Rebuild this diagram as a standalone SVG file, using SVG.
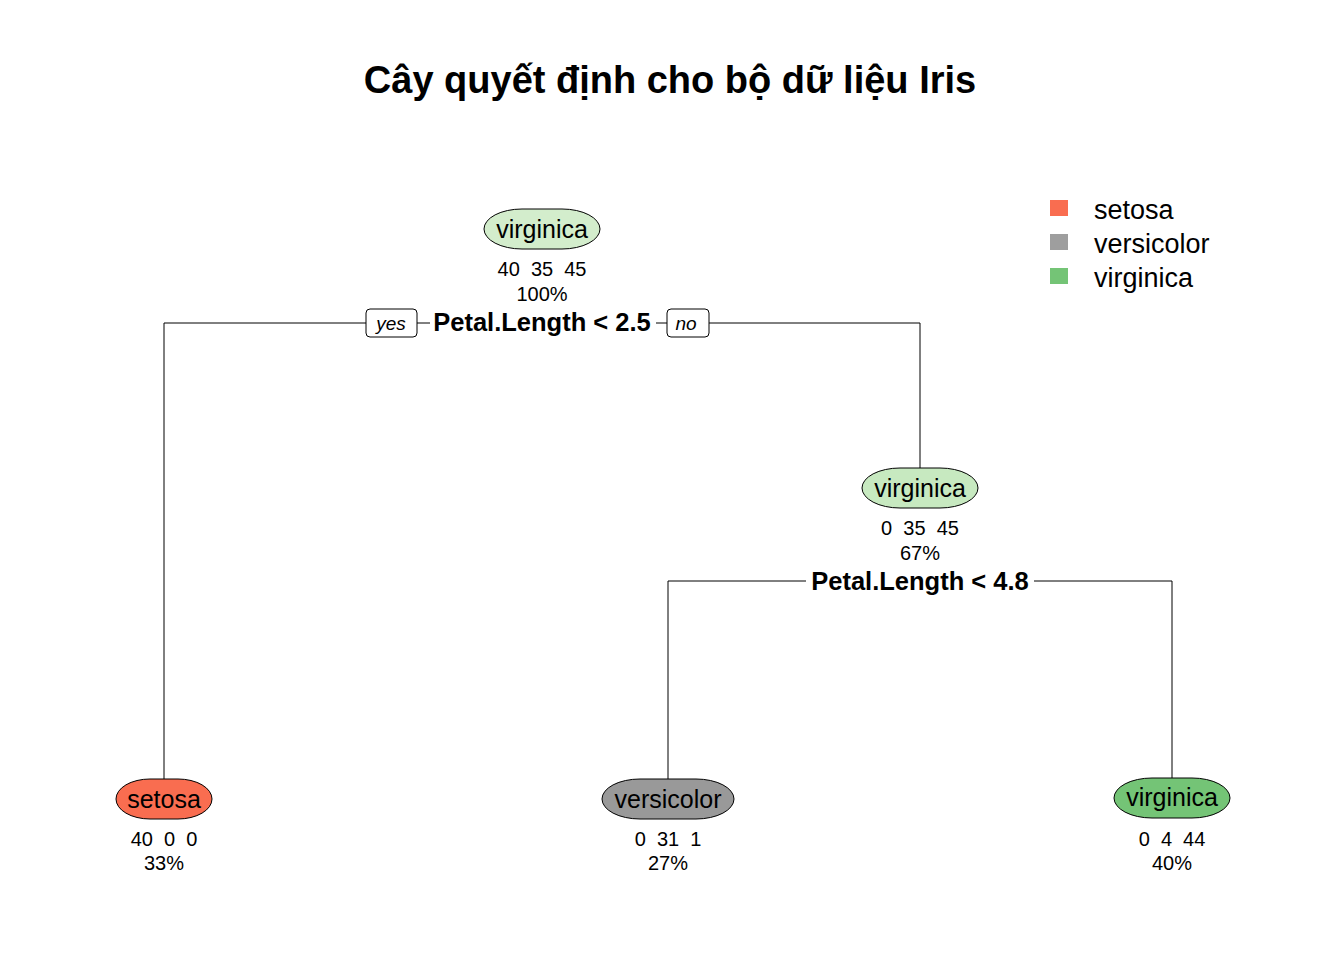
<svg xmlns="http://www.w3.org/2000/svg" width="1344" height="960" viewBox="0 0 1344 960">
<style>
text{font-family:"Liberation Sans",Arial,sans-serif;fill:#000;white-space:pre}
.title{font-size:38px;font-weight:bold;text-anchor:middle}
.lbl{font-size:25px;text-anchor:middle}
.st{font-size:20px;text-anchor:middle}
.split{font-size:25.5px;font-weight:bold;text-anchor:middle}
.yn{font-size:19px;font-style:italic;text-anchor:middle}
.leg{font-size:27px}
.node{stroke:#000;stroke-width:1}
.edge{fill:none;stroke:#000;stroke-width:1}
</style>
<rect width="1344" height="960" fill="#fff"/>
<text class="title" x="670" y="93">Cây quyết định cho bộ dữ liệu Iris</text>
<g id="connectors">
<path class="edge" d="M164,779 V323 H920 V468"/>
<path class="edge" d="M668,779 V581 H1172 V778"/>
</g>
<g id="node1">
<rect class="node" x="484" y="209" width="116" height="40" rx="38" ry="20" fill="#d3edcc"/>
<text class="lbl" x="542" y="238">virginica</text>
<text class="st" x="542" y="276" xml:space="preserve">40  35  45</text>
<text class="st" x="542" y="301">100%</text>
<rect x="430" y="308" width="226" height="30" fill="#fff"/>
<text class="split" x="542" y="331">Petal.Length &lt; 2.5</text>
<rect x="366" y="309" width="51" height="28" rx="4" fill="#fff" stroke="#000"/>
<text class="yn" x="391" y="330">yes</text>
<rect x="667" y="309" width="42" height="28" rx="4" fill="#fff" stroke="#000"/>
<text class="yn" x="686" y="330">no</text>
</g>
<g id="node2">
<rect class="node" x="862" y="468" width="116" height="40" rx="38" ry="20" fill="#c7e9c0"/>
<text class="lbl" x="920" y="497">virginica</text>
<text class="st" x="920" y="535" xml:space="preserve">0  35  45</text>
<text class="st" x="920" y="560">67%</text>
<rect x="806" y="566" width="228" height="30" fill="#fff"/>
<text class="split" x="920" y="590">Petal.Length &lt; 4.8</text>
</g>
<g id="leaf-setosa">
<rect class="node" x="116" y="779" width="96" height="40" rx="34" ry="20" fill="#f96d50"/>
<text class="lbl" x="164" y="808">setosa</text>
<text class="st" x="164" y="846" xml:space="preserve">40  0  0</text>
<text class="st" x="164" y="870">33%</text>
</g>
<g id="leaf-versicolor">
<rect class="node" x="602" y="779" width="132" height="40" rx="38" ry="20" fill="#999999"/>
<text class="lbl" x="668" y="808">versicolor</text>
<text class="st" x="668" y="846" xml:space="preserve">0  31  1</text>
<text class="st" x="668" y="870">27%</text>
</g>
<g id="leaf-virginica">
<rect class="node" x="1114" y="778" width="116" height="40" rx="38" ry="20" fill="#74c476"/>
<text class="lbl" x="1172" y="806">virginica</text>
<text class="st" x="1172" y="846" xml:space="preserve">0  4  44</text>
<text class="st" x="1172" y="870">40%</text>
</g>
<g id="legend">
<rect x="1050" y="200" width="18" height="16" fill="#f96d50"/>
<rect x="1050" y="234" width="18" height="16" fill="#9e9e9e"/>
<rect x="1050" y="268" width="18" height="16" fill="#74c476"/>
<text class="leg" x="1094" y="219">setosa</text>
<text class="leg" x="1094" y="253">versicolor</text>
<text class="leg" x="1094" y="287">virginica</text>
</g>
</svg>
